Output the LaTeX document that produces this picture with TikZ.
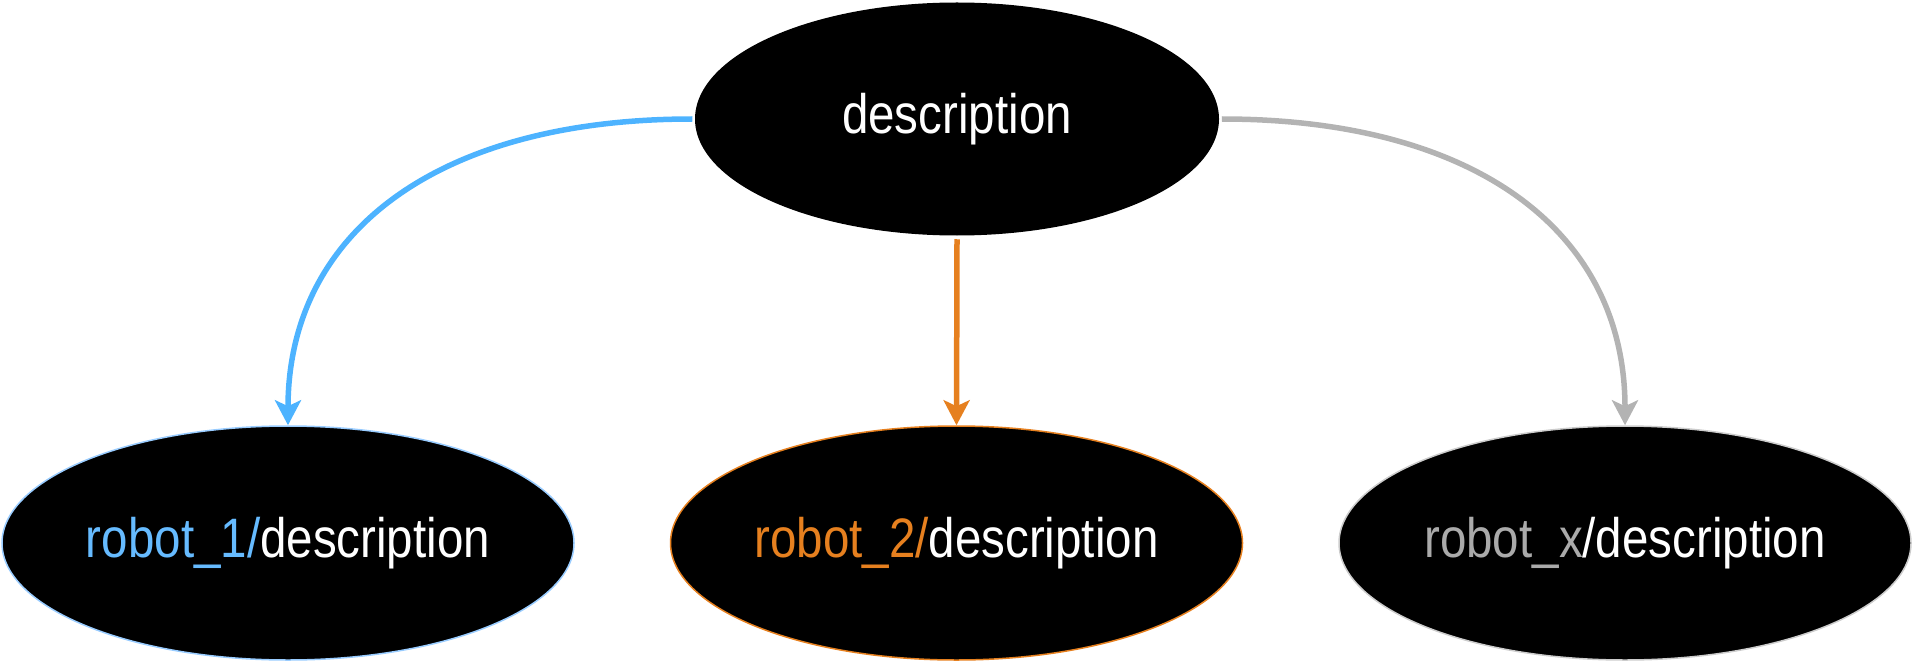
\documentclass[tikz,border=0pt]{standalone}
\usepackage{fontspec}
\setmainfont{Liberation Sans}
\usetikzlibrary{shapes.geometric,arrows.meta}
\definecolor{cblue}{HTML}{4DB3FF}
\definecolor{cblueline}{HTML}{99CCFF}
\definecolor{cbluetext}{HTML}{66BBFF}
\definecolor{corange}{HTML}{E6801F}
\definecolor{cgray}{HTML}{B3B3B3}
\definecolor{cgraytext}{HTML}{AAAAAA}
\definecolor{cgrayline}{HTML}{CCCCCC}
\tikzset{
  oval/.style={ellipse, fill=black, inner sep=0pt, minimum width=572pt, minimum height=234pt, text=white, line width=1.5pt},
  lbl/.style={font=\fontsize{47.5}{47.5}\selectfont},
  conn/.style={line width=5.5pt, -{Stealth[length=25pt,width=26pt,inset=6pt]}},
}
\newcommand{\lab}[1]{\scalebox{1}[1.17]{#1}}
\begin{document}
\begin{tikzpicture}[x=1pt,y=-1pt]
\useasboundingbox (0,0) rectangle (1913,663);
\node[oval, minimum width=524pt, minimum height=233pt, lbl] (top) at (957,119) {\lab{description}};
\node[oval, draw=cblueline, lbl] (r1) at (288,543) {\lab{\textcolor{cbluetext}{robot\_1/}description}};
\node[oval, draw=corange, lbl] (r2) at (956.5,543) {\lab{\textcolor{corange}{robot\_2/}description}};
\node[oval, draw=cgrayline, lbl] (rx) at (1625,543) {\lab{\textcolor{cgraytext}{robot\_x}/description}};
\coordinate (tw) at ([xshift=-2pt]top.west);
\coordinate (te) at ([xshift=2pt]top.east);
\coordinate (ts) at ([yshift=-3pt]top.south);
\draw[conn, cblue] (tw) .. controls (438,119) and (288,232) .. (r1.north);
\draw[conn, corange] (ts) -- (r2.north);
\draw[conn, cgray] (te) .. controls (1476,119) and (1625,232) .. (rx.north);
\end{tikzpicture}
\end{document}
